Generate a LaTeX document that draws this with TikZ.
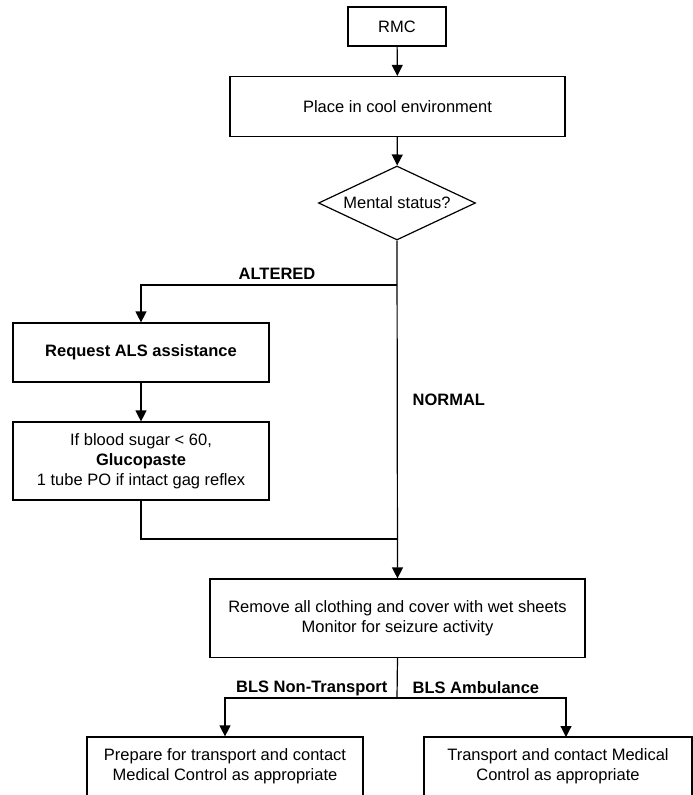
\documentclass[tikz,border=0pt]{standalone}
\usepackage{fontspec}
\setmainfont{Liberation Sans}
\usetikzlibrary{shapes.geometric,arrows.meta}
\begin{document}
\begin{tikzpicture}[x=1pt,y=-1pt, line width=1.2pt,
  txt/.style={font=\fontsize{16.5}{20}\selectfont},
  box/.style={draw, rectangle, inner sep=0pt, align=center, txt},
  arr/.style={-{Triangle[width=11pt,length=11pt]}},
  lab/.style={font=\fontsize{16.5}{20}\selectfont\bfseries, inner sep=0pt}]
\useasboundingbox (0,0) rectangle (693,795);
\clip (0,0) rectangle (693,795);

\node[box, minimum width=98pt, minimum height=39pt] (rmc) at (397,26.5) {RMC};
\node[box, minimum width=335pt, minimum height=60pt] (cool) at (397.5,106.5) {Place in cool environment};
\node[draw, diamond, aspect=2.12, minimum width=157pt, minimum height=74pt, inner sep=0pt, txt] (ms) at (397,203) {Mental status?};
\node[box, minimum width=256pt, minimum height=59pt, font=\fontsize{16.5}{20}\selectfont\bfseries] (req) at (141,352.5) {Request ALS assistance};
\node[box, minimum width=256pt, minimum height=78pt] (glu) at (141,461) {If blood sugar < 60,\\\textbf{Glucopaste}\\1 tube PO if intact gag reflex};
\node[box, minimum width=375pt, minimum height=78.5pt] (rem) at (397.5,618.25) {Remove all clothing and cover with wet sheets\\Monitor for seizure activity};
\node[box, minimum width=276pt, minimum height=59pt] (lb) at (225,766.5) {Prepare for transport and contact\\Medical Control as appropriate};
\node[box, minimum width=268pt, minimum height=59pt] (rb) at (558,766.5) {Transport and contact Medical\\Control as appropriate};

\coordinate (alt) at (397,285);
\coordinate (mrg) at (397,539);
\coordinate (sp) at (397,698);
\coordinate (rbin) at (566,737);

\draw[arr] (rmc) -- (cool);
\draw[arr] (cool) -- (ms);
\draw[arr] (ms.south) -- (rem.north);
\draw[arr] (alt) -| (req.north);
\draw[arr] (req) -- (glu);
\draw (glu.south) |- (mrg);
\draw (rem.south) -- (sp);
\draw[arr] (sp) -| (lb.north);
\draw[arr] (sp) -| (rbin);

\node[lab] (altl) at (277,274) {ALTERED};
\node[lab, anchor=west] (norm) at (412,400) {NORMAL};
\node[lab, anchor=east] (nont) at (388,688) {BLS Non-Transport};
\node[lab, anchor=west] (amb) at (412,688) {BLS Ambulance};
\end{tikzpicture}
\end{document}
